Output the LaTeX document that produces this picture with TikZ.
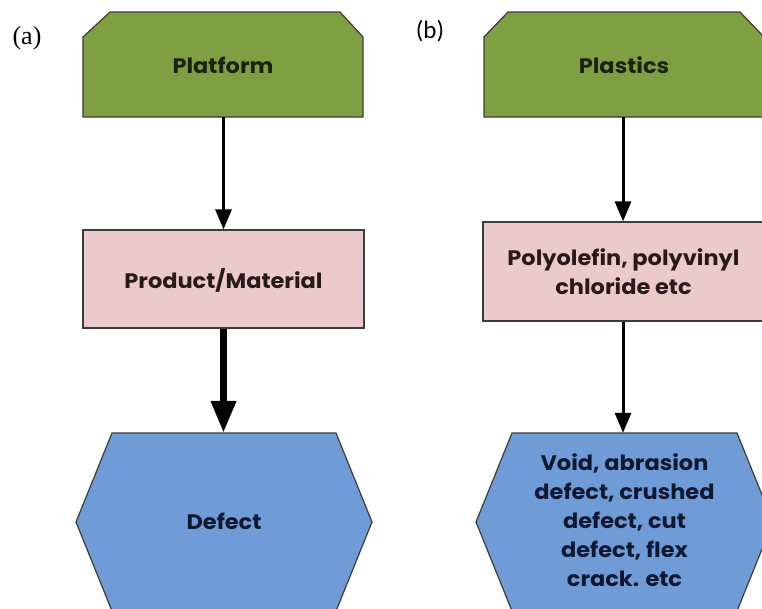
\documentclass[tikz,border=0pt]{standalone}
\usepackage{fontspec}
\setmainfont[FakeStretch=1.07]{Poppins}
\newfontfamily\serifl{Liberation Serif}
\newfontfamily\sansl{Carlito}
\usetikzlibrary{arrows.meta}
\definecolor{gfill}{RGB}{127,160,66}
\definecolor{pfill}{RGB}{236,202,202}
\definecolor{bfill}{RGB}{111,156,214}
\definecolor{edge}{RGB}{60,60,60}
\definecolor{gtext}{RGB}{28,34,18}
\definecolor{ptext}{RGB}{40,26,26}
\definecolor{btext}{RGB}{14,24,48}
\tikzset{
  shapeline/.style={draw=edge, line width=1.2pt},
  lbl/.style={inner sep=0pt, minimum width=0pt, minimum height=0pt, align=center, font=\fontsize{21}{29}\selectfont\bfseries},
  anchorbox/.style={inner sep=0pt, draw=none},
  thinarrow/.style={line width=3pt, -{Triangle[width=16pt,length=20pt]}},
  thickarrow/.style={line width=7pt, -{Triangle[width=24pt,length=32pt]}},
}
\begin{document}
\begin{tikzpicture}[x=1pt,y=-1pt]
\useasboundingbox (0,0) rectangle (762,608);
% ---------- panel (a)
\node[font=\serifl\fontsize{26}{26}\selectfont, inner sep=0pt] (la) at (27,38) {(a)};
\fill[gfill] (83,37) -- (110,12) -- (340,12) -- (363,37) -- (363,117) -- (83,117) -- cycle;
\draw[shapeline] (83,37) -- (110,12) -- (340,12) -- (363,37) -- (363,117) -- (83,117) -- cycle;
\node[anchorbox, minimum width=280pt, minimum height=105pt] (pf) at (223,64.5) {};
\node[lbl, text=gtext] (pft) at (223,65) {Platform};

\node[anchorbox, shapeline, fill=pfill, minimum width=281pt, minimum height=98pt] (pm) at (223.5,279) {};
\node[lbl, text=ptext] (pmt) at (223.5,280) {Product/Material};

\fill[bfill] (112,433) -- (336,433) -- (372,522) -- (336,611) -- (112,611) -- (76,522) -- cycle;
\draw[shapeline] (112,433) -- (336,433) -- (372,522) -- (336,611) -- (112,611) -- (76,522) -- cycle;
\node[anchorbox, minimum width=224pt, minimum height=178pt] (df) at (224,522) {};
\node[lbl, text=btext] (dft) at (224,521) {Defect};

\draw[thinarrow] (pf.south -| pmt) -- (pm.north -| pmt);
\draw[thickarrow] (pm.south -| pmt) -- (df.north -| pmt);

% ---------- panel (b)
\node[font=\sansl\fontsize{25}{25}\selectfont, inner sep=0pt] (lb) at (430,31) {(b)};
\fill[gfill] (484,37) -- (508,12) -- (740,12) -- (764,37) -- (764,117) -- (484,117) -- cycle;
\draw[shapeline] (484,37) -- (508,12) -- (740,12) -- (764,37) -- (764,117) -- (484,117) -- cycle;
\node[anchorbox, minimum width=280pt, minimum height=105pt] (pl) at (624,64.5) {};
\node[lbl, text=gtext] (plt) at (624,65) {Plastics};

\node[anchorbox, shapeline, fill=pfill, minimum width=281pt, minimum height=99pt] (po) at (623.5,271.5) {};
\node[lbl, text=ptext] (pot) at (623.5,272) {Polyolefin, polyvinyl\\chloride etc};

\fill[bfill] (512,433) -- (737,433) -- (773,522) -- (737,611) -- (512,611) -- (476,522) -- cycle;
\draw[shapeline] (512,433) -- (737,433) -- (773,522) -- (737,611) -- (512,611) -- (476,522) -- cycle;
\node[anchorbox, minimum width=225pt, minimum height=178pt] (vd) at (624.5,522) {};
\node[lbl, text=btext] (vdt) at (624.5,520) {Void, abrasion\\defect, crushed\\defect, cut\\defect, flex\\crack. etc};

\draw[thinarrow] (pl.south -| 623,0) -- (po.north -| 623,0);
\draw[thinarrow] (po.south -| 623,0) -- (vd.north -| 623,0);
\end{tikzpicture}
\end{document}
